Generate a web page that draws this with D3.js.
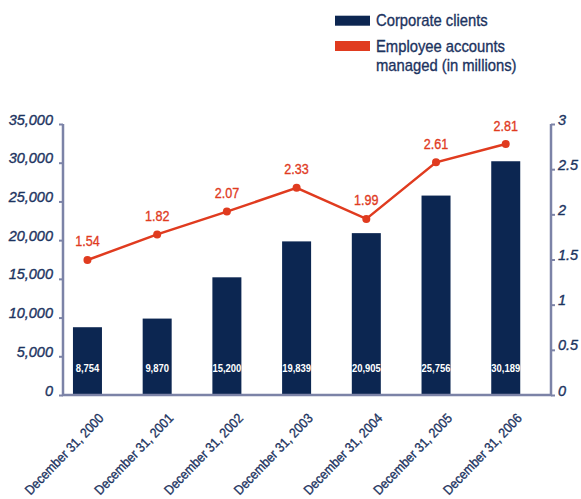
<!DOCTYPE html>
<html>
<head>
<meta charset="utf-8">
<script src="https://cdn.jsdelivr.net/npm/d3@7"></script>
<style>
  html, body { margin: 0; padding: 0; background: #fff; }
  svg { display: block; }
  text { font-family: "Liberation Sans", Arial, Helvetica, sans-serif; }
  /* slightly heavier than regular weight */
  .medium { stroke-width: 0.35px; paint-order: stroke; }
</style>
</head>
<body>
<svg id="chart" width="581" height="499"></svg>
<script>
// Year-end dates shown on the category axis
const categories = ["December 31, 2000", "December 31, 2001", "December 31, 2002",
  "December 31, 2003", "December 31, 2004", "December 31, 2005", "December 31, 2006"];
// Number of corporate clients (bars, left axis)
const corporateClients = [8754, 9870, 15200, 19839, 20905, 25756, 30189];
// Employee accounts managed, in millions (line, right axis)
const employeeAccounts = [1.54, 1.82, 2.07, 2.33, 1.99, 2.61, 2.81];
// Axis ticks
const leftTicks = [0, 5000, 10000, 15000, 20000, 25000, 30000, 35000];
const rightTicks = [0, 0.5, 1, 1.5, 2, 2.5, 3];
const legendLabels = [["Corporate clients"], ["Employee accounts", "managed (in millions)"]];

const NAVY = "#0c2651";
const RED = "#e03b1f";
const AXIS = "#7c83a7";
const TEXT = "#1c3360";

const svg = d3.select("#chart");
const plot = { left: 63, right: 551, top: 124, bottom: 395 };

const x = d3.scaleBand().domain(categories)
  .range([52.6, 540.6]).paddingInner(0.584).paddingOuter(0.292);
const yLeft = d3.scaleLinear().domain([0, 35000]).range([plot.bottom, plot.top]);
const yRight = d3.scaleLinear().domain([0, 3]).range([plot.bottom, plot.top]);
// the line series sits on a slightly lower baseline than the axes
const yLine = d3.scaleLinear().domain([0, 3]).range([400.6, 126.7]);
const cx = (i) => x(categories[i]) + x.bandwidth() / 2;

// narrow-set text: translate to the anchor, then squeeze horizontally
const squeeze = (tx, ty, sx, rot = 0) =>
  `translate(${tx},${ty})` + (rot ? ` rotate(${rot})` : "") + ` scale(${sx},1)`;

// Bars
svg.append("g").selectAll("rect").data(corporateClients).join("rect")
  .attr("x", (d, i) => x(categories[i]))
  .attr("width", x.bandwidth())
  .attr("y", d => yLeft(d))
  .attr("height", d => yLeft(0) - yLeft(d))
  .attr("fill", NAVY);

// Bar value labels
const fmt = d3.format(",");
svg.append("g").selectAll("text").data(corporateClients).join("text")
  .attr("transform", (d, i) => squeeze(cx(i), 371.5, 0.9))
  .attr("text-anchor", "middle")
  .attr("fill", "#fff")
  .attr("font-size", 10.5)
  .attr("font-weight", "bold")
  .text(d => fmt(d));

// Left axis
const leftAxis = svg.append("g")
  .attr("transform", `translate(${plot.left},0)`)
  .call(d3.axisLeft(yLeft).tickValues(leftTicks).tickSize(4).tickPadding(6)
    .tickFormat(d3.format(",")));
leftAxis.select(".domain").remove();
leftAxis.selectAll(".tick line").attr("stroke", AXIS).attr("stroke-width", 2);
leftAxis.selectAll(".tick text")
  .attr("class", "medium").attr("stroke", TEXT)
  .attr("fill", TEXT).attr("font-size", 14.5).attr("font-style", "italic")
  .attr("font-family", "'Liberation Sans',Arial,sans-serif")
  .attr("dy", "0");

// Right axis
const rightAxis = svg.append("g")
  .attr("transform", `translate(${plot.right},0)`)
  .call(d3.axisRight(yRight).tickValues(rightTicks).tickSize(4).tickPadding(3)
    .tickFormat(d => d3.format("")(d)));
rightAxis.select(".domain").remove();
rightAxis.selectAll(".tick line").attr("stroke", AXIS).attr("stroke-width", 2);
rightAxis.selectAll(".tick text")
  .attr("class", "medium").attr("stroke", TEXT)
  .attr("fill", TEXT).attr("font-size", 14.5).attr("font-style", "italic")
  .attr("font-family", "'Liberation Sans',Arial,sans-serif")
  .attr("dy", "0");

// Axis frame lines (left, bottom, right)
svg.append("path")
  .attr("d", `M${plot.left},${plot.top}V${plot.bottom}H${plot.right}V${plot.top}`)
  .attr("fill", "none").attr("stroke", AXIS).attr("stroke-width", 2.5);

// Category labels, rotated
svg.append("g").selectAll("text").data(categories).join("text")
  .attr("class", "medium").attr("stroke", TEXT)
  .attr("transform", (d, i) => squeeze(cx(i) + 17, 419, 0.9, -46))
  .attr("text-anchor", "end")
  .attr("fill", TEXT)
  .attr("font-size", 13.5)
  .text(d => d);

// Line series
svg.append("path")
  .datum(employeeAccounts)
  .attr("d", d3.line().x((d, i) => cx(i)).y(d => yLine(d)))
  .attr("fill", "none").attr("stroke", RED).attr("stroke-width", 2.5);
svg.append("g").selectAll("circle").data(employeeAccounts).join("circle")
  .attr("cx", (d, i) => cx(i)).attr("cy", d => yLine(d)).attr("r", 4)
  .attr("fill", RED);
svg.append("g").selectAll("text").data(employeeAccounts).join("text")
  .attr("class", "medium").attr("stroke", RED)
  .attr("transform", (d, i) => squeeze(cx(i), yLine(d) - 13.5, 0.84))
  .attr("text-anchor", "middle").attr("fill", RED).attr("font-size", 15)
  .text(d => d3.format(".2f")(d));

// Legend
const legend = svg.append("g");
const legendColors = [NAVY, RED];
const legendY = [15.7, 41];
legendLabels.forEach((lines, i) => {
  legend.append("rect").attr("x", 335).attr("y", legendY[i]).attr("width", 35).attr("height", 10)
    .attr("fill", legendColors[i]);
  lines.forEach((t, j) => {
    legend.append("text")
      .attr("class", "medium").attr("stroke", TEXT)
      .attr("transform", squeeze(376, legendY[i] + 10.5 + j * 19, 0.87))
      .attr("fill", TEXT).attr("font-size", 17).text(t);
  });
});
</script>
</body>
</html>
